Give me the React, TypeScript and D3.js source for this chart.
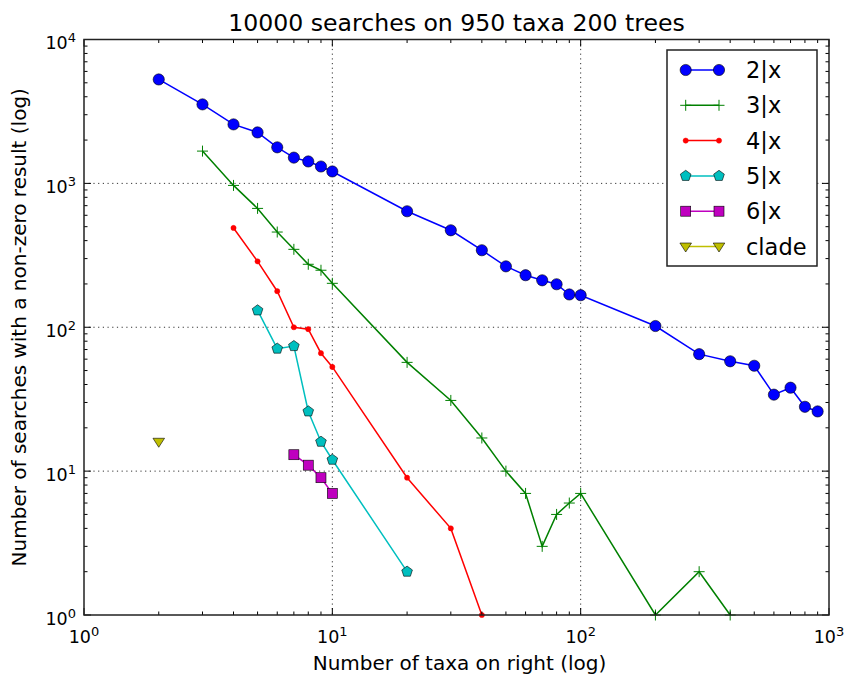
import React from "react";
import * as d3 from "d3";

const xs2 = [2, 3, 4, 5, 6, 7, 8, 9, 10, 20, 30, 40, 50, 60, 70, 80, 90, 100, 200, 300, 400, 500, 600, 700, 800, 900];
const ys2 = [5275, 3540, 2570, 2260, 1780, 1510, 1420, 1310, 1210, 640, 472, 343, 265, 230, 212, 199, 169, 167, 102, 65, 58, 54, 34, 38, 28, 26];
const xs3 = [3, 4, 5, 6, 7, 8, 9, 10, 20, 30, 40, 50, 60, 70, 80, 90, 100, 200, 300, 400];
const ys3 = [1676, 968, 670, 459, 348, 274, 249, 202, 57, 31, 17, 10, 7, 3, 5, 6, 7, 1, 2, 1];
const xs4 = [4, 5, 6, 7, 8, 9, 10, 20, 30, 40];
const ys4 = [490, 287, 178, 100, 97, 66, 53, 9, 4, 1];
const xs5 = [5, 6, 7, 8, 9, 10, 20];
const ys5 = [131, 71, 74, 26, 16, 12, 2];
const xs6 = [7, 8, 9, 10];
const ys6 = [13, 11, 9, 7];
const xsClade = [2];
const ysClade = [16];

const seriesNames = ["2|x", "3|x", "4|x", "5|x", "6|x", "clade"];
const seriesColors = ["#0000ff", "#008000", "#ff0000", "#00bfbf", "#bf00bf", "#bfbf00"];
const seriesMarkers = ["circle", "plus", "dot", "pentagon", "square", "triangle"];
const seriesX = [xs2, xs3, xs4, xs5, xs6, xsClade];
const seriesY = [ys2, ys3, ys4, ys5, ys6, ysClade];

const majorTicks = [1, 10, 100, 1000, 10000];
const xTickExps = [0, 1, 2, 3];
const yTickExps = [0, 1, 2, 3, 4];

const W = 846, H = 677;
const L = 84, R = 829, T = 39.5, B = 615;

const FONT = "DejaVu Sans, sans-serif";

function Marker({ type, cx, cy, color }: { type: string; cx: number; cy: number; color: string }) {
  const ew = 0.6;
  if (type === "circle") return <circle cx={cx} cy={cy} r={5.6} fill={color} stroke="#000" strokeWidth={ew} />;
  if (type === "dot") return <circle cx={cx} cy={cy} r={2.6} fill={color} stroke={color} strokeWidth={0.5} />;
  if (type === "plus")
    return (
      <path d={`M${cx - 5.5},${cy}H${cx + 5.5}M${cx},${cy - 5.5}V${cy + 5.5}`} stroke={color} strokeWidth={1} fill="none" />
    );
  if (type === "square") return <rect x={cx - 5} y={cy - 5} width={10} height={10} fill={color} stroke="#000" strokeWidth={ew} />;
  if (type === "pentagon") {
    const r = 5.6;
    const pts = d3.range(5).map((i) => {
      const a = -Math.PI / 2 + (i * 2 * Math.PI) / 5;
      return [cx + r * Math.cos(a), cy + r * Math.sin(a)];
    });
    return <polygon points={pts.map((p) => p.join(",")).join(" ")} fill={color} stroke="#000" strokeWidth={ew} />;
  }
  if (type === "triangle") {
    const r = 5.8;
    const pts = [
      [cx - r, cy - r * 0.6],
      [cx + r, cy - r * 0.6],
      [cx, cy + r * 0.95],
    ];
    return <polygon points={pts.map((p) => p.join(",")).join(" ")} fill={color} stroke="#000" strokeWidth={ew} />;
  }
  return null;
}

export default function App() {
  const x = d3.scaleLog().domain([1, 1000]).range([L, R]);
  const y = d3.scaleLog().domain([1, 10000]).range([B, T]);

  const minorX: number[] = [];
  for (let e = 0; e < 3; e++) for (let m = 2; m <= 9; m++) minorX.push(m * Math.pow(10, e));
  const minorY: number[] = [];
  for (let e = 0; e < 4; e++) for (let m = 2; m <= 9; m++) minorY.push(m * Math.pow(10, e));

  const line = d3
    .line<[number, number]>()
    .x((d) => x(d[0]))
    .y((d) => y(d[1]));

  const legX = 667, legY = 50, legW = 150, legH = 216;
  const rowY = (i: number) => 70 + i * 35.3;

  return (
    <svg width={W} height={H} style={{ display: "block", position: "absolute", left: 0, top: 0 }} fontFamily={FONT}>
      <rect x={0} y={0} width={W} height={H} fill="#fff" />
      {/* grid */}
      {xTickExps.slice(1, 3).map((e) => (
        <line key={"gx" + e} x1={x(Math.pow(10, e))} x2={x(Math.pow(10, e))} y1={T} y2={B} stroke="#000" strokeWidth={0.8} strokeDasharray="1.2,3.5" />
      ))}
      {yTickExps.slice(1, 4).map((e) => (
        <line key={"gy" + e} x1={L} x2={R} y1={y(Math.pow(10, e))} y2={y(Math.pow(10, e))} stroke="#000" strokeWidth={0.8} strokeDasharray="1.2,3.5" />
      ))}
      {/* series */}
      {seriesNames.map((n, i) => {
        const pts = seriesX[i].map((v, j) => [v, seriesY[i][j]] as [number, number]);
        return (
          <g key={n}>
            <path d={line(pts) || ""} fill="none" stroke={seriesColors[i]} strokeWidth={1.5} />
            {pts.map((p, j) => (
              <Marker key={j} type={seriesMarkers[i]} cx={x(p[0])} cy={y(p[1])} color={seriesColors[i]} />
            ))}
          </g>
        );
      })}
      {/* ticks */}
      {majorTicks.slice(0, 4).map((v) => (
        <g key={"xt" + v}>
          <line x1={x(v)} x2={x(v)} y1={B} y2={B - 7} stroke="#000" strokeWidth={1} />
          <line x1={x(v)} x2={x(v)} y1={T} y2={T + 7} stroke="#000" strokeWidth={1} />
        </g>
      ))}
      {minorX.map((v) => (
        <g key={"xm" + v}>
          <line x1={x(v)} x2={x(v)} y1={B} y2={B - 3.5} stroke="#000" strokeWidth={1} />
          <line x1={x(v)} x2={x(v)} y1={T} y2={T + 3.5} stroke="#000" strokeWidth={1} />
        </g>
      ))}
      {majorTicks.map((v) => (
        <g key={"yt" + v}>
          <line x1={L} x2={L + 7} y1={y(v)} y2={y(v)} stroke="#000" strokeWidth={1} />
          <line x1={R} x2={R - 7} y1={y(v)} y2={y(v)} stroke="#000" strokeWidth={1} />
        </g>
      ))}
      {minorY.map((v) => (
        <g key={"ym" + v}>
          <line x1={L} x2={L + 3.5} y1={y(v)} y2={y(v)} stroke="#000" strokeWidth={1} />
          <line x1={R} x2={R - 3.5} y1={y(v)} y2={y(v)} stroke="#000" strokeWidth={1} />
        </g>
      ))}
      {/* spines */}
      <rect x={L} y={T} width={R - L} height={B - T} fill="none" stroke="#222" strokeWidth={1.5} />
      {/* tick labels */}
      {xTickExps.map((e) => (
        <text key={"xl" + e} x={x(Math.pow(10, e))} y={643} fontSize={17.5} textAnchor="middle" fill="#000">
          10<tspan fontSize={13} dy={-7}>{e}</tspan>
        </text>
      ))}
      {yTickExps.map((e) => (
        <text key={"yl" + e} x={76} y={y(Math.pow(10, e)) + 9.5} fontSize={17.5} textAnchor="end" fill="#000">
          10<tspan fontSize={13} dy={-7}>{e}</tspan>
        </text>
      ))}
      {/* title and labels */}
      <text x={(L + R) / 2} y={30.5} fontSize={23.6} textAnchor="middle" fill="#000">
        10000 searches on 950 taxa 200 trees
      </text>
      <text x={(L + R) / 2 + 3} y={670} fontSize={20} textAnchor="middle" fill="#000">
        Number of taxa on right (log)
      </text>
      <text transform={`translate(26,${(T + B) / 2}) rotate(-90)`} fontSize={20} textAnchor="middle" fill="#000">
        Number of searches with a non-zero result (log)
      </text>
      {/* legend */}
      <rect x={legX} y={legY} width={legW} height={legH} fill="#fff" stroke="#222" strokeWidth={1.5} />
      {seriesNames.map((n, i) => (
        <g key={"lg" + n}>
          <line x1={685.7} x2={719} y1={rowY(i)} y2={rowY(i)} stroke={seriesColors[i]} strokeWidth={1.5} />
          <Marker type={seriesMarkers[i]} cx={685.7} cy={rowY(i)} color={seriesColors[i]} />
          <Marker type={seriesMarkers[i]} cx={719} cy={rowY(i)} color={seriesColors[i]} />
          <text x={746} y={rowY(i) + 8} fontSize={22.5} fill="#000">
            {n}
          </text>
        </g>
      ))}
    </svg>
  );
}
